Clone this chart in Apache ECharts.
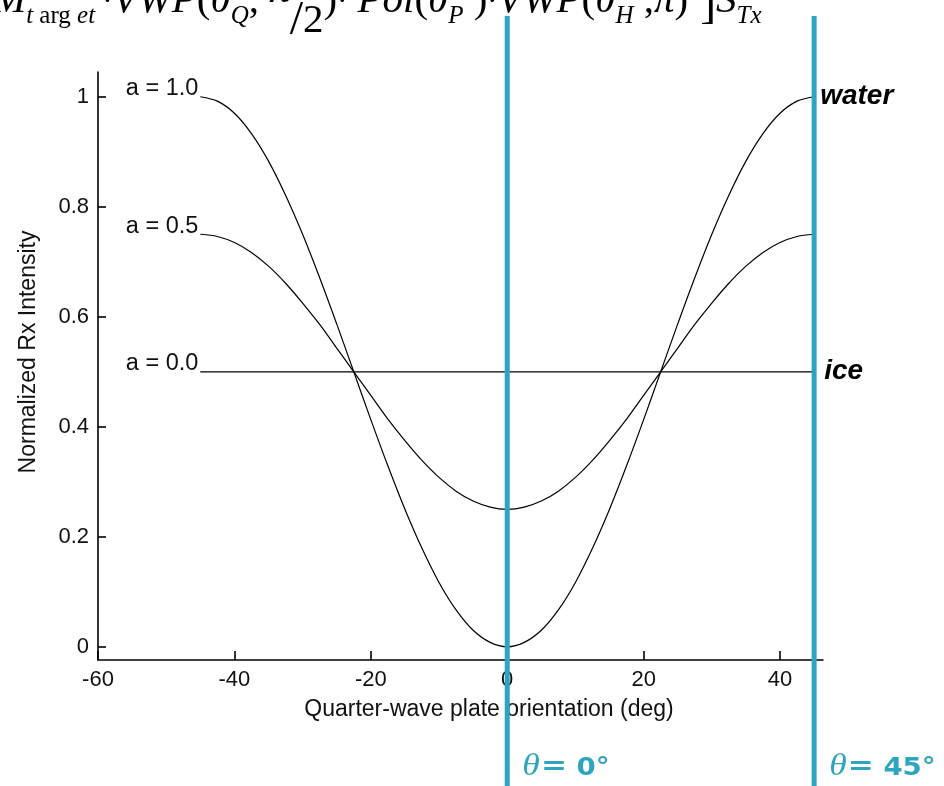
<!DOCTYPE html>
<html>
<head>
<meta charset="utf-8">
<script src="https://cdn.jsdelivr.net/npm/echarts@6/dist/echarts.min.js"></script>
<style>
  html, body { margin: 0; padding: 0; background: #fff; }
  #chart { width: 944px; height: 786px; }
</style>
</head>
<body>
<div id="chart"></div>
<script>
// Quarter-wave plate angle (deg), sampled every 2.5 deg
const angles = [-45, -42.5, -40, -37.5, -35, -32.5, -30, -27.5, -25, -22.5, -20, -17.5, -15, -12.5, -10, -7.5, -5, -2.5,
  0, 2.5, 5, 7.5, 10, 12.5, 15, 17.5, 20, 22.5, 25, 27.5, 30, 32.5, 35, 37.5, 40, 42.5, 45];

// Normalized received intensity for each depolarization parameter a
const intensityA10 = [1.000, 0.992, 0.970, 0.933, 0.883, 0.821, 0.750, 0.671, 0.587, 0.500, 0.413, 0.329, 0.250, 0.179, 0.117, 0.067, 0.030, 0.008,
  0.000, 0.008, 0.030, 0.067, 0.117, 0.179, 0.250, 0.329, 0.413, 0.500, 0.587, 0.671, 0.750, 0.821, 0.883, 0.933, 0.970, 0.992, 1.000];
const intensityA05 = [0.750, 0.746, 0.735, 0.717, 0.692, 0.661, 0.625, 0.586, 0.543, 0.500, 0.457, 0.414, 0.375, 0.339, 0.308, 0.283, 0.265, 0.254,
  0.250, 0.254, 0.265, 0.283, 0.308, 0.339, 0.375, 0.414, 0.457, 0.500, 0.543, 0.586, 0.625, 0.661, 0.692, 0.717, 0.735, 0.746, 0.750];
const intensityA00 = [0.5, 0.5, 0.5, 0.5, 0.5, 0.5, 0.5, 0.5, 0.5, 0.5, 0.5, 0.5, 0.5, 0.5, 0.5, 0.5, 0.5, 0.5,
  0.5, 0.5, 0.5, 0.5, 0.5, 0.5, 0.5, 0.5, 0.5, 0.5, 0.5, 0.5, 0.5, 0.5, 0.5, 0.5, 0.5, 0.5, 0.5];

const curveNames = ['a = 1.0', 'a = 0.5', 'a = 0.0'];
const endNames = ['water', '', 'ice'];

const xTicks = [-60, -40, -20, 0, 20, 40];
const yTicks = [0, 0.2, 0.4, 0.6, 0.8, 1];

const markerAngles = [0, 45];
const markerLabels = ['0°', '45°'];

const xTitle = 'Quarter-wave plate orientation (deg)';
const yTitle = 'Normalized Rx Intensity';

const TEAL = '#2fa4c0';
const INK = '#111';

const chart = echarts.init(document.getElementById('chart'), null, { renderer: 'canvas' });

function buildSeries(name, values, endName, endDist, endDy) {
  const data = angles.map((a, i) => {
    const item = { value: [a, values[i]] };
    if (i === 0) {
      item.label = {
        show: true, position: 'left', distance: 2, verticalAlign: 'bottom', lineHeight: 16,
        formatter: name, fontFamily: 'Liberation Sans, Arial, sans-serif',
        fontSize: 23.5, color: INK
      };
    } else if (i === angles.length - 1 && endName) {
      item.label = {
        show: true, position: 'right', distance: endDist, offset: [0, endDy],
        formatter: endName, fontFamily: 'Liberation Sans, Arial, sans-serif',
        fontSize: 28, fontWeight: 'bold', fontStyle: 'italic', color: '#000'
      };
    }
    return item;
  });
  return {
    type: 'line', name, data, smooth: 0.3,
    showSymbol: true, showAllSymbol: true, symbol: 'circle', symbolSize: 0,
    itemStyle: { color: '#000' },
    lineStyle: { color: '#000', width: 1.2 },
    label: { show: false },
    labelLayout: { hideOverlap: false },
    emphasis: { disabled: true },
    silent: true, z: 3
  };
}

chart.setOption({
  animation: false,
  backgroundColor: '#fff',
  grid: { left: 98, right: 121, top: 72, bottom: 126, containLabel: false },
  xAxis: {
    type: 'value', min: -60, max: 46.3,
    axisLine: { show: true, onZero: false, lineStyle: { color: '#000', width: 1.6 } },
    axisTick: { show: true, inside: true, length: 9, customValues: xTicks, lineStyle: { color: '#000', width: 1.6 } },
    axisLabel: { customValues: xTicks, margin: 9, fontFamily: 'Liberation Sans, Arial, sans-serif', fontSize: 22, color: INK, showMinLabel: true, showMaxLabel: true },
    splitLine: { show: false }
  },
  yAxis: {
    type: 'value', min: -0.024, max: 1.045,
    axisLine: { show: true, onZero: false, lineStyle: { color: '#000', width: 1.6 } },
    axisTick: { show: true, inside: true, length: 8, customValues: yTicks, lineStyle: { color: '#000', width: 1.6 } },
    axisLabel: { customValues: yTicks, margin: 9, fontFamily: 'Liberation Sans, Arial, sans-serif', fontSize: 22, color: INK },
    splitLine: { show: false }
  },
  series: [
    buildSeries(curveNames[0], intensityA10, endNames[0], 6, -1),
    buildSeries(curveNames[1], intensityA05, endNames[1], 6, 0),
    buildSeries(curveNames[2], intensityA00, endNames[2], 10, 2)
  ]
});

// Overlay: equation header, axis titles, and the two plate-angle markers
const serif = 'Liberation Serif, Times New Roman, serif';
const sans = 'Liberation Sans, Arial, sans-serif';
const wideSans = 'DejaVu Sans, Liberation Sans, sans-serif';

const graphics = [];

graphics.push({
  type: 'text', x: -8, y: 47, z: 5, silent: true,
  style: {
    text: '{m|M}{s|t}{su| arg }{s|et}{d| ·}{m|VWP}{u|(}{m|θ}{s|Q}{u|, }{hi|π}{sl|/}{lo|2}{u|)}{d|·}{m| Pol}{u|(}{m|θ}{s|P}{u| )}{d|·}{m|VWP}{u|(}{m|θ}{s|H}{u| ,}{m|π}{u|)}{br| ]}{m|S}{s|Tx}',
    verticalAlign: 'bottom', align: 'left',
    rich: {
      m: { fontFamily: serif, fontStyle: 'italic', fontSize: 41, lineHeight: 42, padding: [0, 0, 25, 0], verticalAlign: 'bottom', fill: '#000' },
      u: { fontFamily: serif, fontSize: 41, lineHeight: 42, padding: [0, 0, 25, 0], verticalAlign: 'bottom', fill: '#000' },
      d: { fontFamily: serif, fontSize: 30, lineHeight: 30, padding: [0, 0, 30, 0], verticalAlign: 'bottom', fill: '#000' },
      br: { fontFamily: serif, fontSize: 48, lineHeight: 50, padding: [0, 0, 19, 0], verticalAlign: 'bottom', fill: '#000' },
      s: { fontFamily: serif, fontStyle: 'italic', fontSize: 25, lineHeight: 25, padding: [0, 0, 18, 0], verticalAlign: 'bottom', fill: '#000' },
      su: { fontFamily: serif, fontSize: 25, lineHeight: 25, padding: [0, 0, 18, 0], verticalAlign: 'bottom', fill: '#000' },
      hi: { fontFamily: serif, fontStyle: 'italic', fontSize: 41, lineHeight: 42, padding: [0, 0, 35, 0], verticalAlign: 'bottom', fill: '#000' },
      sl: { fontFamily: serif, fontSize: 48, lineHeight: 48, padding: [0, 0, 2, 0], verticalAlign: 'bottom', fill: '#000' },
      lo: { fontFamily: serif, fontSize: 41, lineHeight: 42, padding: [0, 0, 5, 0], verticalAlign: 'bottom', fill: '#000' }
    }
  }
});

graphics.push({
  type: 'text', x: 489, y: 710, silent: true,
  style: { text: xTitle, font: '23px ' + sans, fill: INK, align: 'center', verticalAlign: 'middle' }
});
graphics.push({
  type: 'text', x: 29, y: 352, rotation: Math.PI / 2, silent: true,
  style: { text: yTitle, font: '23px ' + sans, fill: INK, align: 'center', verticalAlign: 'middle' }
});

markerAngles.forEach((ang, i) => {
  const px = chart.convertToPixel({ xAxisIndex: 0 }, ang);
  graphics.push({
    type: 'line', z: 10, silent: true,
    shape: { x1: px, y1: 16, x2: px, y2: 786 },
    style: { stroke: TEAL, lineWidth: 5 }
  });
  graphics.push({
    type: 'text', x: px + 15, y: 782, z: 10, silent: true, scaleX: 1.15, originX: 0,
    style: {
      text: '{t|θ}{e|=}{v| ' + markerLabels[i] + '}',
      verticalAlign: 'bottom', align: 'left',
      rich: {
        t: { fontFamily: serif, fontStyle: 'italic', fontSize: 31, lineHeight: 30, padding: [0, 1, 0, 0], verticalAlign: 'bottom', fill: TEAL },
        e: { fontFamily: wideSans, fontWeight: 'bold', fontSize: 27, lineHeight: 26, padding: [0, 0, 2, 0], verticalAlign: 'bottom', fill: TEAL },
        v: { fontFamily: wideSans, fontWeight: 'bold', fontSize: 24, lineHeight: 23, padding: [0, 0, 1, 0], verticalAlign: 'bottom', fill: TEAL }
      }
    }
  });
});

chart.setOption({ graphic: graphics });
</script>
</body>
</html>
